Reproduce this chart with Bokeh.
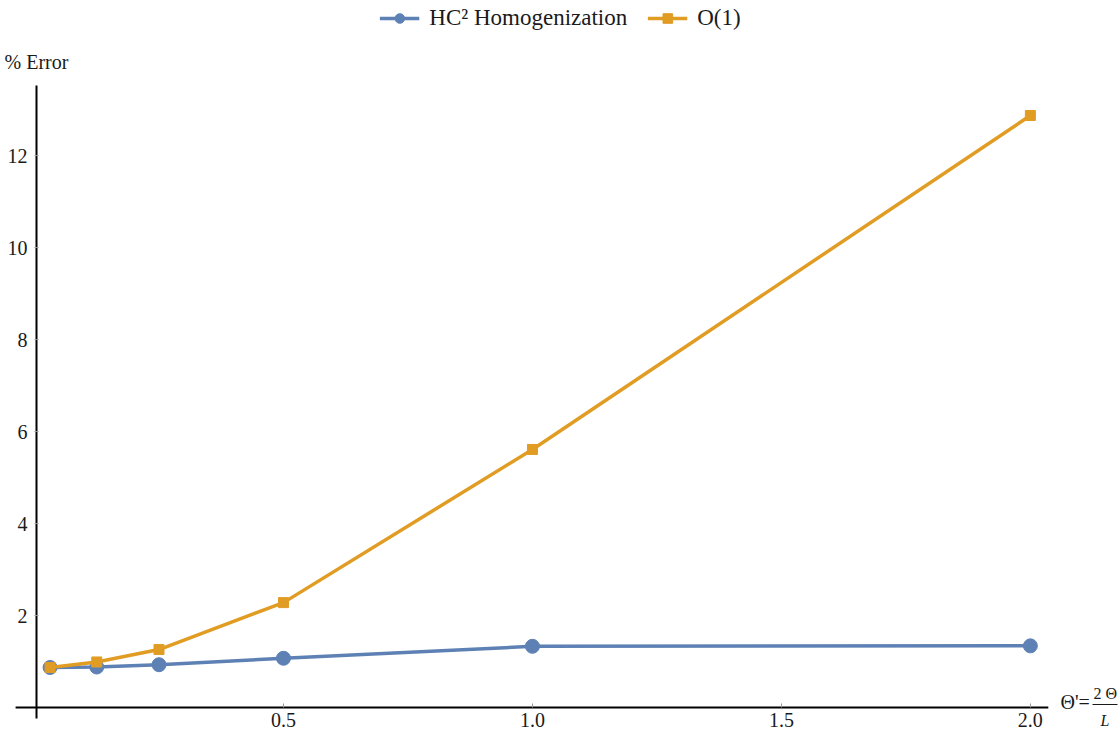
from bokeh.plotting import figure
from bokeh.models import Range1d, FixedTicker, Legend, LegendItem, Label
from bokeh.embed import file_html
from bokeh.resources import INLINE

# data
theta = [0.03125, 0.125, 0.25, 0.5, 1.0, 2.0]
hc2 = [0.87, 0.88, 0.93, 1.07, 1.33, 1.34]
o1 = [0.87, 0.99, 1.26, 2.28, 5.61, 12.87]
x_ticks = [0.5, 1.0, 1.5, 2.0]
y_ticks = [2, 4, 6, 8, 10, 12]

BLUE = "#5E81B5"
ORANGE = "#E19C24"
FONT = "Liberation Serif"
TXT = "#1a1a1a"

X0, X1 = -0.0683, 2.181
Y0, Y1 = -0.587, 15.37
W, H = 1120, 734

p = figure(width=W, height=H, output_backend="svg", toolbar_location=None,
           x_range=Range1d(X0, X1), y_range=Range1d(Y0, Y1),
           min_border=0, outline_line_color=None)
p.grid.visible = False

for ax in (p.xaxis, p.yaxis):
    ax.fixed_location = 0
    ax.axis_line_color = None
    ax.major_tick_in = 4
    ax.major_tick_out = 0
    ax.minor_tick_line_color = None
    ax.major_tick_line_color = "#999999"
    ax.major_label_text_font = FONT
    ax.major_label_text_font_size = "20px"
    ax.major_label_text_color = TXT

p.xaxis.ticker = FixedTicker(ticks=x_ticks)
p.yaxis.ticker = FixedTicker(ticks=y_ticks)
p.xaxis.major_label_overrides = {v: f"{v:.1f}" for v in x_ticks}
p.xaxis.major_label_standoff = 6
p.yaxis.major_label_standoff = 7

# axis lines
p.segment(x0=[-0.038], y0=[0], x1=[2.036], y1=[0], line_color="black", line_width=2)
p.segment(x0=[0.004], y0=[-0.24], x1=[0.004], y1=[13.52], line_color="black", line_width=2)

r1l = p.line(theta, hc2, line_color=BLUE, line_width=3.5)
r1m = p.scatter(theta, hc2, marker="circle", size=14, fill_color=BLUE, line_color=BLUE)
r2l = p.line(theta, o1, line_color=ORANGE, line_width=3.5)
r2m = p.scatter(theta, o1, marker="square", size=10, fill_color=ORANGE, line_color=ORANGE)

legend = Legend(items=[LegendItem(label="HC² Homogenization", renderers=[r1l, r1m]),
                       LegendItem(label="O(1)", renderers=[r2l, r2m])],
                orientation="horizontal", location="top_center",
                background_fill_alpha=0, border_line_color=None,
                label_text_font=FONT, label_text_font_size="23px", label_text_color=TXT,
                glyph_width=40, glyph_height=24, spacing=20, margin=5, padding=4,
                label_standoff=10)
p.add_layout(legend)


def sx(px):
    return X0 + px * (X1 - X0) / W


def sy(py):
    return Y1 - py * (Y1 - Y0) / H


p.add_layout(Label(x=4, y=H - 72, x_units="screen", y_units="screen",
                   text="% Error", text_font=FONT, text_font_size="20px", text_color=TXT))
p.add_layout(Label(x=1060, y=H - 712, x_units="screen", y_units="screen",
                   text="Θ'=", text_font=FONT, text_font_size="20px", text_color=TXT))
p.add_layout(Label(x=1093, y=H - 701, x_units="screen", y_units="screen",
                   text="2 Θ", text_font=FONT, text_font_size="16px", text_color=TXT))
p.add_layout(Label(x=1100, y=H - 728, x_units="screen", y_units="screen",
                   text="L", text_font=FONT, text_font_size="16px", text_font_style="italic",
                   text_color=TXT))
p.segment(x0=[sx(1092)], y0=[sy(704)], x1=[sx(1117)], y1=[sy(704)], line_color=TXT, line_width=1)

open("out.html", "w").write(file_html(p, INLINE))
